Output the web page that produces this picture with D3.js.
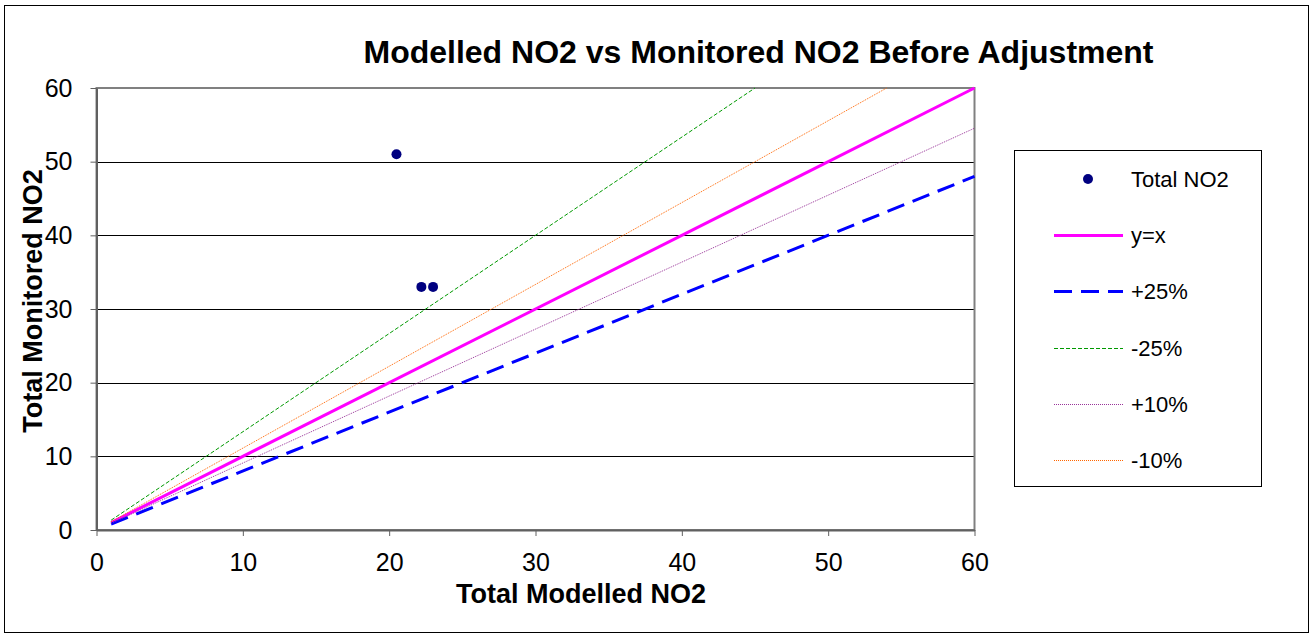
<!DOCTYPE html>
<html>
<head>
<meta charset="utf-8">
<script src="https://cdn.jsdelivr.net/npm/d3@7"></script>
<style>
  body { margin: 0; background: #fff; }
  svg { display: block; font-family: Arial, "Liberation Sans", sans-serif; }
</style>
</head>
<body>
<svg id="chart" width="1313" height="637"></svg>
<script>
// Monitoring sites: modelled vs monitored NO2
const modelled = [20.5, 22.2, 23.0];
const monitored = [51, 33, 33];

// Reference lines run from x = 1 to x = 60
const lineX = [1, 60];
const lineNames = ["y=x", "+25%", "-25%", "+10%", "-10%"];
const lineFactors = [1, 1 / 1.25, 1 / 0.75, 1 / 1.1, 1 / 0.9];

const xTicks = [0, 10, 20, 30, 40, 50, 60];
const yTicks = [0, 10, 20, 30, 40, 50, 60];

const styles = {
  "y=x":  { stroke: "#ff00ff", width: 3, dash: null },
  "+25%": { stroke: "#0000ff", width: 3, dash: "18,9" },
  "-25%": { stroke: "#009900", width: 1, dash: "4,2" },
  "+10%": { stroke: "#993399", width: 1, dash: "1,1" },
  "-10%": { stroke: "#ff6600", width: 1, dash: "1,1" }
};

const svg = d3.select("#chart");

// Outer frame
svg.append("rect").attr("x", 4.5).attr("y", 5.5).attr("width", 1304).attr("height", 627)
  .attr("fill", "#fff").attr("stroke", "#000").attr("stroke-width", 1);

const plot = { left: 96.5, top: 88, right: 974.5, bottom: 530 };
const x = d3.scaleLinear().domain([0, 60]).range([plot.left, plot.right]);
const y = d3.scaleLinear().domain([0, 60]).range([plot.bottom, plot.top]);

// Horizontal gridlines
svg.append("g").selectAll("line").data(yTicks.filter(d => d > 0 && d < 60)).join("line")
  .attr("x1", plot.left).attr("x2", plot.right)
  .attr("y1", d => Math.round(y(d)) + 0.5).attr("y2", d => Math.round(y(d)) + 0.5)
  .attr("stroke", "#000").attr("stroke-width", 1);

// Plot area border
svg.append("rect").attr("x", plot.left).attr("y", plot.top)
  .attr("width", plot.right - plot.left).attr("height", plot.bottom - plot.top)
  .attr("fill", "none").attr("stroke", "#808080").attr("stroke-width", 2);

// Axes
const xAxis = svg.append("g").attr("transform", `translate(0,${plot.bottom})`)
  .call(d3.axisBottom(x).tickValues(xTicks).tickSize(6).tickSizeOuter(0).tickPadding(17));
const yAxis = svg.append("g").attr("transform", `translate(${plot.left},0)`)
  .call(d3.axisLeft(y).tickValues(yTicks).tickSize(6).tickSizeOuter(0).tickPadding(18));
[xAxis, yAxis].forEach(g => {
  g.attr("font-size", 25).attr("font-family", "Arial, 'Liberation Sans', sans-serif");
  g.select(".domain").attr("stroke", "#606060").attr("stroke-width", 2);
  g.selectAll(".tick line").attr("stroke", "#606060").attr("stroke-width", 1);
  g.selectAll(".tick text").attr("fill", "#000");
});

// Reference lines, clipped at the top of the plot
const line = d3.line().x(d => x(d[0])).y(d => y(d[1]));
lineNames.forEach((name, i) => {
  const s = styles[name];
  const f = lineFactors[i];
  const pts = lineX.map(v => v * f > 60 ? [60 / f, 60] : [v, v * f]);
  svg.append("path").datum(pts)
    .attr("d", line).attr("fill", "none")
    .attr("stroke", s.stroke).attr("stroke-width", s.width)
    .attr("stroke-dasharray", s.dash);
});

// Monitored points
svg.append("g").selectAll("circle").data(modelled).join("circle")
  .attr("cx", d => x(d)).attr("cy", (d, i) => y(monitored[i])).attr("r", 5)
  .attr("fill", "#000080");

// Title and axis titles
svg.append("text").attr("x", 758.5).attr("y", 63).attr("text-anchor", "middle")
  .attr("font-size", 32).attr("font-weight", "bold")
  .text("Modelled NO2 vs Monitored NO2 Before Adjustment");
svg.append("text").attr("x", 581).attr("y", 603).attr("text-anchor", "middle")
  .attr("font-size", 27).attr("font-weight", "bold").text("Total Modelled NO2");
svg.append("text").attr("transform", "translate(42,301) rotate(-90)").attr("text-anchor", "middle")
  .attr("font-size", 27).attr("font-weight", "bold").text("Total Monitored NO2");

// Legend
const legend = svg.append("g");
legend.append("rect").attr("x", 1014.5).attr("y", 150.5).attr("width", 247).attr("height", 336)
  .attr("fill", "#fff").attr("stroke", "#000").attr("stroke-width", 1);
const legendNames = ["Total NO2"].concat(lineNames);
legendNames.forEach((name, i) => {
  const ly = Math.round(179 + i * 56.2);
  if (i === 0) {
    legend.append("circle").attr("cx", 1088).attr("cy", ly).attr("r", 5).attr("fill", "#000080");
  } else {
    const s = styles[name];
    const off = s.width % 2 ? 0.5 : 0;
    legend.append("line").attr("x1", 1054).attr("x2", 1123).attr("y1", ly + off).attr("y2", ly + off)
      .attr("stroke", s.stroke).attr("stroke-width", s.width).attr("stroke-dasharray", s.dash);
  }
  legend.append("text").attr("x", 1131).attr("y", ly + 8).attr("font-size", 22).text(name);
});
</script>
</body>
</html>
